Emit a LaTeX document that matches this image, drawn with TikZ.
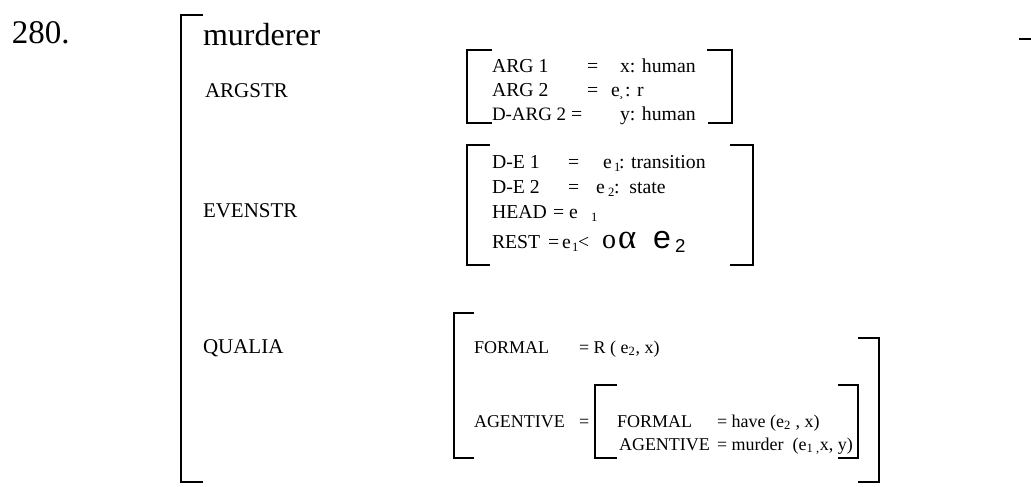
\documentclass[tikz,border=0pt]{standalone}
\usepackage{fontspec}
\setmainfont{Liberation Serif}
\newfontfamily\sansfam{Liberation Sans}
\newcommand\fsNum{\fontsize{24.75}{28}\selectfont}
\newcommand\fsHead{\fontsize{24}{28}\selectfont}
\newcommand\fsLab{\fontsize{15.75}{18}\selectfont}
\newcommand\fsBox{\fontsize{14.8}{18}\selectfont}
\newcommand\fsQua{\fontsize{13.5}{16}\selectfont}
\newcommand\fsSub{\fontsize{9.5}{11}\selectfont}
\begin{document}
\begin{tikzpicture}[x=0.75pt,y=-0.75pt,
  txt/.style={anchor=base west,inner sep=0pt,outer sep=0pt},
  lab/.style={txt,font=\fsLab},
  bx/.style={txt,font=\fsBox},
  qu/.style={txt,font=\fsQua},
  sb/.style={txt,font=\fsSub},
  br/.style={line width=1.6pt,line cap=butt,line join=miter}]
\useasboundingbox (0,0) rectangle (1031,486);
% big bracket
\draw[br] (203,15) -- (181,15) -- (181,482) -- (203,482);
\draw[br] (1019,39) -- (1031,39);
% headings
\node[txt,font=\fsNum] (num) at (12,43) {280.};
\node[txt,font=\fsHead] (head) at (203,45) {murderer};
\node[lab] (argstr) at (205,97) {ARGSTR};
\node[lab] (evenstr) at (203,217) {EVENSTR};
\node[lab] (qualia) at (203,353) {QUALIA};
% ARGSTR box
\draw[br] (492,50) -- (467,50) -- (467,123) -- (492,123);
\draw[br] (707,50) -- (732,50) -- (732,123) -- (708,123);
\node[bx] (a1) at (492,72) {ARG 1};
\node[bx] (a1e) at (587,72) {=};
\node[bx] (a1v) at (620,72) {x: human};
\node[bx] (a2) at (492,96) {ARG 2};
\node[bx] (a2e) at (587,96) {=};
\node[bx] (a2v) at (611,96) {e};
\node[sb] (a2s) at (619,96) {¸};
\node[bx] (a2r) at (625,96) {: r};
\node[txt,font=\fontsize{14.2}{17}\selectfont] (a3) at (492,120) {D-ARG 2};
\node[bx] (a3e) at (571,120) {=};
\node[bx] (a3v) at (620,120) {y: human};
% EVENSTR box
\draw[br] (490,145) -- (467,145) -- (467,265) -- (490,265);
\draw[br] (730,145) -- (753,145) -- (753,265) -- (730,265);
\node[bx] (d1) at (492,168) {D-E 1};
\node[bx] (d1e) at (568,168) {=};
\node[bx] (d1v) at (603,168) {e};
\node[sb] (d1s) at (614,171) {1};
\node[bx] (d1r) at (619,168) {: transition};
\node[bx] (d2) at (492,193) {D-E 2};
\node[bx] (d2e) at (568,193) {=};
\node[bx] (d2v) at (596,193) {e};
\node[sb] (d2s) at (608,196) {2};
\node[bx] (d2r) at (614,193) {:\ \ state};
\node[bx] (hd) at (492,218) {HEAD};
\node[bx] (hde) at (553,218) {= e};
\node[sb] (hds) at (591,221) {1};
\node[bx] (rs) at (492,248) {REST};
\node[bx] (rse) at (548,248) {=};
\node[bx] (rsv1) at (562,248) {e};
\node[sb] (rss) at (572,251) {1};
\node[bx] (rsl) at (578,248) {<};
\node[txt,font=\fontsize{21}{24}\selectfont] (rso) at (602,248) {o};
\node[txt,font=\fontsize{26}{28}\selectfont] (rsa) at (618,248) {α};
\node[txt,font=\sansfam\fontsize{24}{28}\selectfont] (rsv) at (653,248) {e};
\node[txt,font=\sansfam\fontsize{14}{16}\selectfont] (rsvs) at (675,252) {2};
% QUALIA box
\draw[br] (474,313) -- (454,313) -- (454,458) -- (474,458);
\draw[br] (858,338) -- (879,338) -- (879,482) -- (858,482);
\node[qu] (qf) at (474,353) {FORMAL};
\node[qu] (qfv) at (579,353) {= R ( e\textsubscript{2}, x)};
\node[qu] (qa) at (474,427) {AGENTIVE};
\node[qu] (qae) at (579,427) {=};
% inner box
\draw[br] (617,385) -- (595,385) -- (595,458) -- (617,458);
\draw[br] (838,385) -- (858,385) -- (858,458) -- (838,458);
\node[qu] (if) at (617,427) {FORMAL};
\node[qu] (ifv) at (717,427) {= have (e\textsubscript{2} , x)};
\node[qu] (ia) at (619,450) {AGENTIVE};
\node[qu] (iav) at (717,450) {= murder\ \ (e\textsubscript{1 ,}x, y)};
\end{tikzpicture}
\end{document}
